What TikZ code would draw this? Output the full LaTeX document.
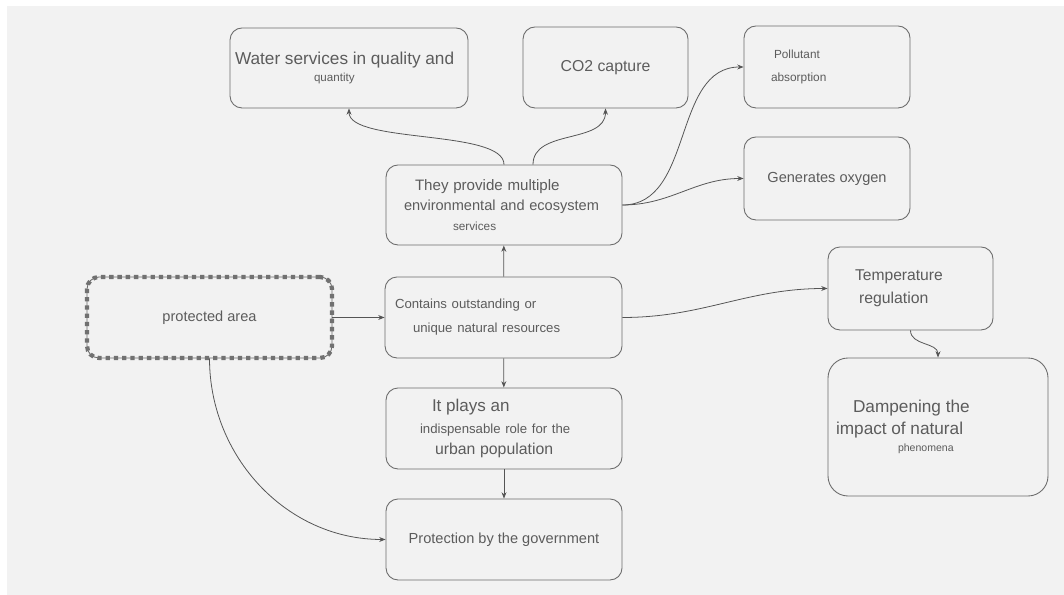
\documentclass[tikz,border=0pt]{standalone}
\usepackage{fontspec}
\setmainfont{Liberation Sans}
\usetikzlibrary{arrows.meta}
\definecolor{bggray}{HTML}{F2F2F2}
\definecolor{boxgray}{HTML}{6C6C6C}
\definecolor{textgray}{HTML}{5C5C5C}
\definecolor{dashgray}{HTML}{717171}
\definecolor{arrowgray}{HTML}{555555}
\newcommand{\fsz}[2]{{\fontsize{#1}{12pt}\selectfont #2}}

\begin{document}
\begin{tikzpicture}[
    box/.style={draw=boxgray, rectangle, rounded corners=0.24cm, line width=0.5pt, align=center,
        text=textgray, inner sep=0pt, font=\fontsize{8}{11pt}\selectfont},
    lines/.style={font=\fontsize{8}{#1}\selectfont},
    link/.style={draw=arrowgray, line width=0.45pt, -{Stealth[length=3.6pt,width=2.8pt]}}
]
    % Canvas
    \fill[white] (0,0) rectangle (21.28,11.9);
    \fill[bggray] (0.14,0) rectangle (21.28,11.78);
    \useasboundingbox (0,0) rectangle (21.28,11.9);

    % Services on top
    \node[box, lines=10.2pt, align=left, text width=4.76cm, minimum height=1.6cm] (water) at (6.98,10.54)
        {\hspace*{0.1cm}\fsz{9.8}{Water services in quality and}\\\hspace*{1.68cm}\fsz{6.6}{quantity}};
    \node[box, minimum width=3.3cm, minimum height=1.62cm] (co2) at (12.11,10.55)
        {\fsz{9}{CO2 capture}};
    \node[box, lines=13pt, align=left, text width=3.32cm, minimum height=1.64cm] (pollut) at (16.54,10.56)
        {\hspace*{0.6cm}\fsz{6.7}{Pollutant}\\\hspace*{0.54cm}\fsz{6.75}{absorption}};
    \node[box, minimum width=3.32cm, minimum height=1.66cm] (oxygen) at (16.54,8.33)
        {\fsz{8.3}{Generates oxygen}};

    % Middle column
    \node[box, lines=11.4pt, align=left, text width=4.72cm, minimum height=1.6cm] (provide) at (10.08,7.8)
        {\hspace*{0.58cm}\fsz{8.6}{They provide multiple}\\\hspace*{0.36cm}\fsz{8.3}{environmental and ecosystem}\\\hspace*{1.34cm}\fsz{6.7}{services}};
    \node[box, lines=13.6pt, align=left, text width=4.74cm, minimum height=1.62cm] (contains) at (10.07,5.55)
        {\hspace*{0.2cm}\fsz{7.5}{Contains outstanding or}\\\hspace*{0.56cm}\fsz{7.5}{unique natural resources}};
    \node[box, lines=12.2pt, align=left, text width=4.72cm, minimum height=1.62cm] (plays) at (10.08,3.33)
        {\hspace*{0.92cm}\fsz{9.7}{It plays an}\\\hspace*{0.68cm}\fsz{7.5}{indispensable role for the}\\\hspace*{0.98cm}\fsz{9}{urban population}};
    \node[box, minimum width=4.72cm, minimum height=1.62cm] (protection) at (10.08,1.11)
        {\fsz{8.3}{Protection by the government}};

    % Starting point
    \node[box, minimum width=4.9cm, minimum height=1.62cm,
        postaction={draw=dashgray, line width=2.4pt, dash pattern=on 2.45pt off 2.25pt}] (protected) at (4.19,5.55)
        {\fsz{8.3}{protected area}};

    % Right side
    \node[box, lines=13pt, align=left, text width=3.3cm, minimum height=1.66cm] (temp) at (18.21,6.13)
        {\hspace*{0.54cm}\fsz{8.9}{Temperature}\\\hspace*{0.62cm}\fsz{9}{regulation}};
    \node[box, rounded corners=0.4cm, lines=12.4pt, align=left, text width=4.4cm, minimum height=2.76cm] (damp) at (18.76,3.36)
        {\hspace*{0.5cm}\fsz{9.8}{Dampening the}\\\hspace*{0.16cm}\fsz{9.8}{impact of natural}\\[-2.2pt]\hspace*{1.4cm}\fsz{6}{phenomena}};

    % Connections
    \draw[link] (protected) -- (contains);
    \draw[link] (contains) -- (provide);
    \draw[link] (contains) -- (plays);
    \draw[link] (plays) -- (protection);
    \draw[link] (protected.south) to[out=-90, in=180] (protection.west);

    \draw[link] (provide.north) to[out=90, in=-90, looseness=0.55] (water.south);
    \draw[link] ([xshift=0.58cm]provide.north) to[out=90, in=-90] (co2.south);
    \draw[link] (provide.east) to[out=0, in=180] (pollut.west);
    \draw[link] (provide.east) to[out=0, in=180] (oxygen.west);

    \draw[link] (contains.east) to[out=0, in=180] (temp.west);
    \draw[link] (temp.south) to[out=-90, in=90] (damp.north);

\end{tikzpicture}
\end{document}
